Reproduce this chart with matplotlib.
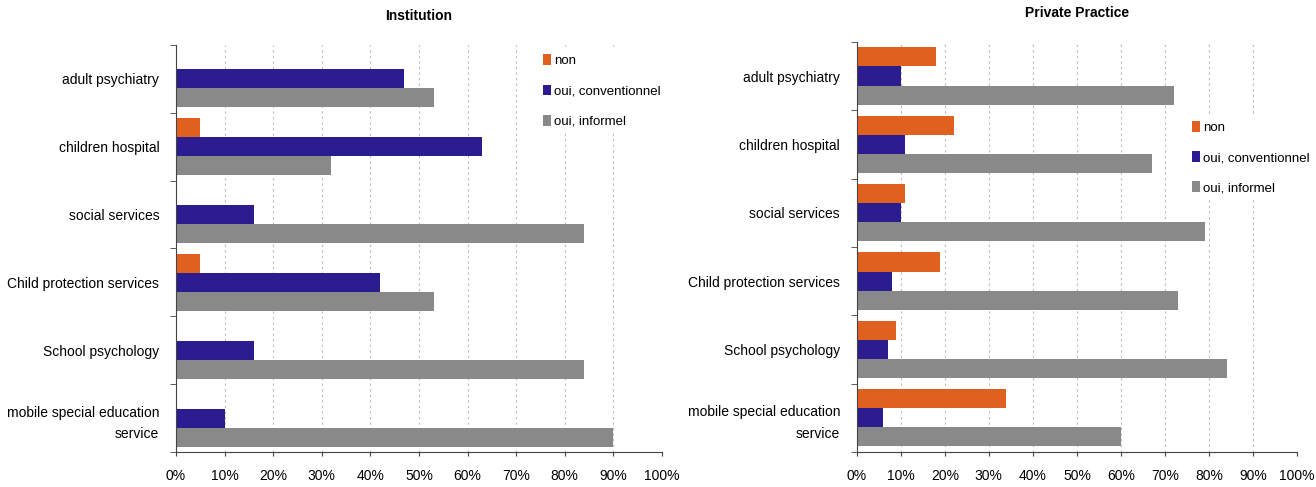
import numpy as np
import matplotlib.pyplot as plt
from matplotlib.ticker import PercentFormatter, FixedLocator

plt.rcParams['font.family'] = ['Liberation Sans Narrow', 'Liberation Sans', 'DejaVu Sans']

categories = ['adult psychiatry', 'children hospital', 'social services',
              'Child protection services', 'School psychology',
              'mobile special education\nservice']
series = ['non', 'oui, conventionnel', 'oui, informel']
colors = ['#E0601F', '#2B1C8F', '#898989']

# Institution
inst_non = [0, 5, 0, 5, 0, 0]
inst_conv = [47, 63, 16, 42, 16, 10]
inst_inf = [53, 32, 84, 53, 84, 90]

# Private practice
priv_non = [18, 22, 11, 19, 9, 34]
priv_conv = [10, 11, 10, 8, 7, 6]
priv_inf = [72, 67, 79, 73, 84, 60]

fig = plt.figure(figsize=(13.16, 4.87), dpi=100)
ax1 = fig.add_axes([0.1337, 0.072, 0.3693, 0.8356])
ax2 = fig.add_axes([0.651, 0.072, 0.3346, 0.842])


def draw(ax, data, title, legend_pos):
    y = np.arange(len(categories))
    h = 0.28
    for i, (vals, name) in enumerate(zip(data, series)):
        ax.barh(y + (i - 1) * h, vals, height=h, color=colors[i], label=name, zorder=2)
    ax.set_xlim(0, 100)
    ax.set_ylim(len(categories) - 0.5, -0.5)
    ax.set_xticks(np.arange(0, 101, 10))
    ax.xaxis.set_major_formatter(PercentFormatter(decimals=0))
    ax.set_yticks(y)
    ax.set_yticklabels(categories, fontsize=10, linespacing=1.7)
    ax.yaxis.set_minor_locator(FixedLocator(np.arange(-0.5, len(categories), 1)))
    ax.tick_params(axis='y', which='major', length=0, pad=12)
    ax.tick_params(axis='y', which='minor', length=4, color='#444444')
    ax.tick_params(axis='x', labelsize=10, length=3, color='#444444', pad=9)
    for s in ['top', 'right']:
        ax.spines[s].set_visible(False)
    for s in ['left', 'bottom']:
        ax.spines[s].set_color('#444444')
    ax.grid(axis='x', linestyle=(0, (2, 3)), color='#bbbbbb', linewidth=0.8, zorder=0)
    ax.set_axisbelow(True)
    ax.set_title(title, fontsize=10, fontweight='bold', pad=18)
    leg = ax.legend(loc='upper left', bbox_to_anchor=legend_pos, frameon=True,
                    fontsize=9.5, handlelength=0.6, handleheight=0.9,
                    handletextpad=0.2, labelspacing=1.3, borderaxespad=0)
    leg.get_frame().set_edgecolor('none')
    leg.get_frame().set_facecolor('white')
    leg.get_frame().set_alpha(1)


draw(ax1, [inst_non, inst_conv, inst_inf], 'Institution', (0.745, 0.99))
draw(ax2, [priv_non, priv_conv, priv_inf], 'Private Practice', (0.75, 0.82))

fig.savefig('out.png', dpi=100)
